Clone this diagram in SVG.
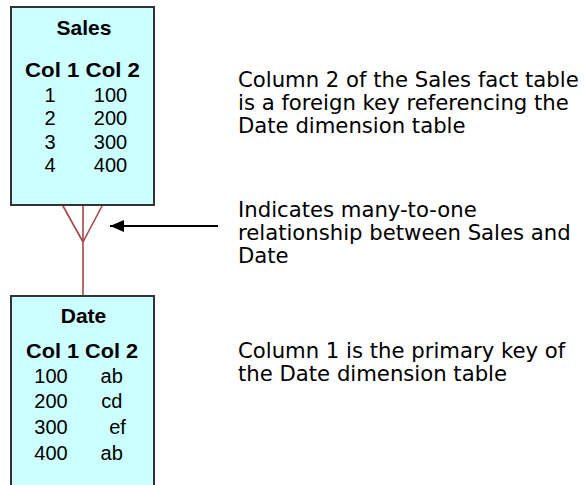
<svg xmlns="http://www.w3.org/2000/svg" width="584" height="485" viewBox="0 0 584 485">
  <style>
    .box { fill: #CCFFFF; stroke: #333333; stroke-width: 2; }
    .title { font-family: "Liberation Sans", Arial, sans-serif; font-weight: bold; font-size: 21px; fill: #000; text-anchor: middle; }
    .head { font-family: "Liberation Sans", Arial, sans-serif; font-weight: bold; font-size: 21px; fill: #000; }
    .cell { font-family: "Liberation Sans", Arial, sans-serif; font-size: 20px; fill: #000; text-anchor: middle; }
    .note { font-family: "DejaVu Sans", Verdana, sans-serif; font-size: 21.2px; fill: #000; }
    .rel { stroke: #A04848; stroke-width: 1.6; fill: none; }
    .arrow { stroke: #000; stroke-width: 2; fill: none; }
  </style>
  <defs>
    <marker id="ah" markerUnits="userSpaceOnUse" markerWidth="16" markerHeight="12" refX="14" refY="6" orient="auto">
      <path d="M0,0 L14,6 L0,12 Z" fill="#000"/>
    </marker>
  </defs>

  <g id="connectors">
    <line class="rel" x1="63" y1="206" x2="83" y2="242"/>
    <line class="rel" x1="102" y1="206" x2="83" y2="242"/>
    <line class="rel" x1="83" y1="206" x2="83" y2="295"/>
    <line class="arrow" x1="218" y1="226" x2="110" y2="226" marker-end="url(#ah)"/>
  </g>

  <g id="sales">
    <rect class="box" x="11" y="7" width="143" height="198"/>
    <text class="title" x="84" y="35">Sales</text>
    <text class="head" x="25" y="76.5" textLength="115" lengthAdjust="spacingAndGlyphs">Col 1 Col 2</text>
    <text class="cell" x="50" y="101.5">1</text>
    <text class="cell" x="110.5" y="101.5">100</text>
    <text class="cell" x="50" y="125">2</text>
    <text class="cell" x="110.5" y="125">200</text>
    <text class="cell" x="50" y="148.5">3</text>
    <text class="cell" x="110.5" y="148.5">300</text>
    <text class="cell" x="50" y="172">4</text>
    <text class="cell" x="110.5" y="172">400</text>
  </g>

  <g id="date">
    <rect class="box" x="11" y="296" width="143" height="200"/>
    <text class="title" x="83.5" y="323">Date</text>
    <text class="head" x="26" y="358" textLength="112" lengthAdjust="spacingAndGlyphs">Col 1 Col 2</text>
    <text class="cell" x="51" y="383.3">100</text>
    <text class="cell" x="111.7" y="383.3">ab</text>
    <text class="cell" x="51" y="408.3">200</text>
    <text class="cell" x="111.7" y="408.3">cd</text>
    <text class="cell" x="117.5" y="434">ef</text>
    <text class="cell" x="51" y="434">300</text>
    <text class="cell" x="51" y="460">400</text>
    <text class="cell" x="111.7" y="460">ab</text>
  </g>

  <g id="note-fk">
    <text class="note" x="238" y="87">Column 2 of the Sales fact table</text>
    <text class="note" x="238" y="110">is a foreign key referencing the</text>
    <text class="note" x="238" y="133">Date dimension table</text>
  </g>

  <g id="note-rel">
    <text class="note" x="238" y="217">Indicates many-to-one</text>
    <text class="note" x="238" y="240">relationship between Sales and</text>
    <text class="note" x="238" y="263">Date</text>
  </g>

  <g id="note-pk">
    <text class="note" x="238" y="358">Column 1 is the primary key of</text>
    <text class="note" x="238" y="381">the Date dimension table</text>
  </g>
</svg>
